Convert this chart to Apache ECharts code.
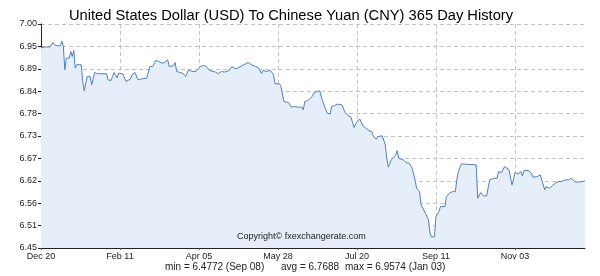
<!DOCTYPE html>
<html>
<head>
<meta charset="utf-8">
<script src="https://cdn.jsdelivr.net/npm/echarts@6/dist/echarts.min.js"></script>
<style>html,body{margin:0;padding:0;background:#fff}#c{width:600px;height:276px}</style>
</head>
<body>
<div id="c"></div>
<script>
// Day offsets from Dec 20, 2016
const dayOffsets = [0,1,2,6,8,9,11,13,14,15,16,17,19,20,21,22,23,24,27,28,29,31,33,34,35,36,38,44,45,47,48,49,51,52,55,57,60,61,63,65,67,71,73,75,77,79,81,83,85,86,89,90,91,93,95,97,99,101,104,107,109,111,113,117,119,121,123,126,128,130,132,135,137,139,141,144,146,148,149,151,154,155,156,157,160,161,163,164,166,168,170,173,175,176,177,179,182,183,185,187,188,189,192,194,195,197,199,202,204,206,208,210,212,214,216,217,220,222,223,225,226,227,229,231,232,233,235,238,239,240,243,245,247,249,251,252,254,255,256,258,259,260,261,262,264,265,267,268,271,272,274,276,278,279,280,281,282,283,292,293,295,297,299,301,302,304,306,307,309,311,312,314,316,317,318,320,322,323,324,327,329,330,333,335,336,338,339,341,343,345,347,349,352,354,356,358,360,363,365];
const rates = [6.9410,6.9449,6.9435,6.9435,6.9548,6.9491,6.9466,6.9466,6.9574,6.9449,6.8876,6.9164,6.9164,6.9326,6.9203,6.9351,6.8918,6.9000,6.9000,6.8589,6.8360,6.8712,6.8712,6.8508,6.8549,6.8810,6.8778,6.8778,6.8631,6.8613,6.8712,6.8810,6.8672,6.8795,6.8771,6.8589,6.8648,6.8753,6.8810,6.8631,6.8648,6.8672,6.8958,6.8958,6.9105,6.9080,6.9041,6.9056,6.9122,6.8958,6.8975,6.9056,6.8835,6.8810,6.8795,6.8712,6.8876,6.8835,6.8835,6.8958,6.8982,6.8958,6.8859,6.8820,6.8778,6.8835,6.8820,6.8852,6.8958,6.8901,6.8918,6.8982,6.9017,6.9056,6.9000,6.8958,6.8918,6.8778,6.8859,6.8835,6.8859,6.8894,6.8753,6.8532,6.8532,6.8466,6.8097,6.8058,6.8072,6.7959,6.7974,6.7959,6.7959,6.7893,6.8097,6.8122,6.8220,6.8304,6.8343,6.8360,6.8367,6.8097,6.7812,6.7787,6.7974,6.7999,6.8033,6.8016,6.7827,6.7753,6.7713,6.7458,6.7605,6.7664,6.7500,6.7482,6.7384,6.7359,6.7237,6.7173,6.7237,6.7278,6.7254,6.7032,6.6705,6.6484,6.6664,6.6787,6.6892,6.6705,6.6664,6.6597,6.6582,6.6460,6.6172,6.5968,6.5884,6.5557,6.5515,6.5353,6.5311,6.5188,6.4862,6.4772,6.4778,6.5270,6.5393,6.5515,6.5515,6.5761,6.5845,6.5884,6.5884,6.6172,6.6376,6.6418,6.6565,6.6541,6.6541,6.5722,6.5860,6.5779,6.5779,6.6172,6.6130,6.6214,6.6214,6.6376,6.6351,6.6499,6.6516,6.6418,6.6049,6.6172,6.6351,6.6319,6.6376,6.6270,6.6401,6.6401,6.6337,6.6238,6.6253,6.6295,6.6253,6.5926,6.6007,6.5968,6.6024,6.6091,6.6130,6.6130,6.6172,6.6172,6.6214,6.6130,6.6115,6.6130,6.6154,6.6154];
const xTickDays = [0,53,106,159,212,265,318];
const xTickLabels = ['Dec 20','Feb 11','Apr 05','May 28','Jul 20','Sep 11','Nov 03'];
const yTicks = [6.45,6.505,6.56,6.615,6.67,6.725,6.78,6.835,6.89,6.945,7.00];
const yTickLabels = ['6.45','6.51','6.56','6.62','6.67','6.73','6.78','6.84','6.89','6.95','7.00'];
const titleText = 'United States Dollar (USD) To Chinese Yuan (CNY) 365 Day History';
const statMin = 'min = 6.4772 (Sep 08)';
const statAvg = 'avg = 6.7688';
const statMax = 'max = 6.9574 (Jan 03)';
const copyrightText = 'Copyright\u00a9 fxexchangerate.com';

const FONT = 'Liberation Sans';
const chart = echarts.init(document.getElementById('c'), null, {renderer: 'canvas'});
const gridLine = {show: true, lineStyle: {color: '#c4c4c4', type: [4, 3], width: 1}};
chart.setOption({
  animation: false,
  title: {text: titleText, left: 64, top: 3,
    textStyle: {fontFamily: FONT, fontSize: 14.7, fontWeight: 'normal', color: '#000'}},
  grid: {left: 41, right: 15, top: 24, bottom: 28},
  xAxis: {
    type: 'value', min: 0, max: 365,
    axisLine: {show: true, lineStyle: {color: '#222', width: 1}},
    axisTick: {show: true, length: 2, customValues: xTickDays, lineStyle: {color: '#555'}},
    axisLabel: {customValues: xTickDays, margin: 4, fontFamily: FONT, fontSize: 9, color: '#222',
      formatter: v => { const i = xTickDays.indexOf(Math.round(v)); return i >= 0 ? xTickLabels[i] : ''; }},
    splitLine: gridLine
  },
  yAxis: {
    type: 'value', min: 6.45, max: 7.00,
    axisLine: {show: true, lineStyle: {color: '#222', width: 1}},
    axisTick: {show: true, length: 3, customValues: yTicks, lineStyle: {color: '#222'}},
    axisLabel: {customValues: yTicks, margin: 4, fontFamily: FONT, fontSize: 9, color: '#222',
      formatter: v => { let best = 0; yTicks.forEach((t, i) => { if (Math.abs(t - v) < Math.abs(yTicks[best] - v)) best = i; }); return yTickLabels[best]; }},
    splitLine: gridLine
  },
  graphic: [
    {type: 'text', left: 237, top: 232, z: 100, style: {text: copyrightText, fontFamily: FONT, fontSize: 9, fill: '#222'}},
    {type: 'text', left: 165, top: 262, z: 100, style: {text: statMin, fontFamily: FONT, fontSize: 10, fill: '#222'}},
    {type: 'text', left: 281, top: 262, z: 100, style: {text: statAvg, fontFamily: FONT, fontSize: 10, fill: '#222'}},
    {type: 'text', left: 345, top: 262, z: 100, style: {text: statMax, fontFamily: FONT, fontSize: 10, fill: '#222'}}
  ],
  series: [{
    type: 'line', showSymbol: false, symbol: 'none',
    data: dayOffsets.map((d, i) => [d, rates[i]]),
    lineStyle: {color: '#4f80bd', width: 1},
    areaStyle: {color: '#e6eefa', opacity: 1, origin: 'start'},
    z: 3
  }]
});
</script>
</body>
</html>
